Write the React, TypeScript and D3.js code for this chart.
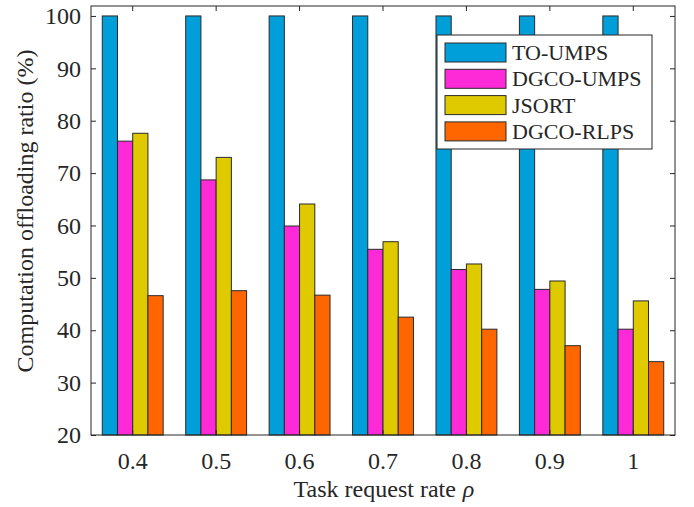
import React, { useEffect, useRef } from 'react';
import * as d3 from 'd3';

const rates = ['0.4', '0.5', '0.6', '0.7', '0.8', '0.9', '1'];
const seriesNames = ['TO-UMPS', 'DGCO-UMPS', 'JSORT', 'DGCO-RLPS'];
const toUmps = [100, 100, 100, 100, 100, 100, 100];
const dgcoUmps = [76.1, 68.7, 59.9, 55.45, 51.6, 47.8, 40.2];
const jsort = [77.6, 73.0, 64.1, 56.9, 52.65, 49.4, 45.6];
const dgcoRlps = [46.6, 47.55, 46.7, 42.5, 40.2, 37.05, 34.0];
const yTicks = [20, 30, 40, 50, 60, 70, 80, 90, 100];
const colors = ['#009fda', '#ff2ad7', '#dfca00', '#ff6600'];

const App: React.FC = () => {
  const svgRef = useRef<SVGSVGElement | null>(null);

  useEffect(() => {
    const svg = d3.select(svgRef.current);
    const width = 694;
    const height = 507;
    const margin = { top: 6, right: 19, bottom: 72, left: 91 };
    const font = 'Liberation Serif, Times New Roman, serif';
    const ink = '#262626';
    const fs = 24;

    svg.selectAll('*').remove();

    const allSeries = [toUmps, dgcoUmps, jsort, dgcoRlps];
    const rows = rates.map((r, i) => ({
      rate: r,
      values: seriesNames.map((s, j) => ({ name: s, value: allSeries[j][i], color: colors[j] })),
    }));

    const x0 = d3
      .scaleBand()
      .domain(rates)
      .range([margin.left, width - margin.right])
      .paddingInner(0.27)
      .paddingOuter(0.135);

    const x1 = d3.scaleBand().domain(seriesNames).range([0, x0.bandwidth()]);

    const y = d3
      .scaleLinear()
      .domain([20, 101.9])
      .range([height - margin.bottom, margin.top]);

    // bars
    const groups = svg
      .append('g')
      .selectAll('g')
      .data(rows)
      .join('g')
      .attr('transform', (d) => `translate(${x0(d.rate)},0)`);

    groups
      .selectAll('rect')
      .data((d) => d.values)
      .join('rect')
      .attr('x', (d) => x1(d.name)!)
      .attr('y', (d) => y(d.value))
      .attr('width', x1.bandwidth())
      .attr('height', (d) => y(20) - y(d.value))
      .attr('fill', (d) => d.color)
      .attr('stroke', '#2a2a2a')
      .attr('stroke-width', 1);

    // axes with inward ticks (matlab style)
    const styleAxis = (g: any) => {
      g.select('.domain').remove();
      g.attr('font-family', font).attr('font-size', fs);
      g.selectAll('line').attr('stroke', ink);
      g.selectAll('text').attr('fill', ink);
    };

    svg
      .append('g')
      .attr('transform', `translate(0,${height - margin.bottom})`)
      .call(d3.axisBottom(x0).tickSizeInner(-5).tickSizeOuter(0).tickPadding(17))
      .call(styleAxis);

    svg
      .append('g')
      .attr('transform', `translate(0,${margin.top})`)
      .call(d3.axisTop(x0).tickSizeInner(-5).tickSizeOuter(0).tickFormat(() => ''))
      .call(styleAxis);

    svg
      .append('g')
      .attr('transform', `translate(${margin.left},0)`)
      .call(d3.axisLeft(y).tickValues(yTicks).tickSizeInner(-5).tickSizeOuter(0).tickPadding(10))
      .call(styleAxis);

    svg
      .append('g')
      .attr('transform', `translate(${width - margin.right},0)`)
      .call(d3.axisRight(y).tickValues(yTicks).tickSizeInner(-5).tickSizeOuter(0).tickFormat(() => ''))
      .call(styleAxis);

    // frame
    svg
      .append('rect')
      .attr('x', margin.left)
      .attr('y', margin.top)
      .attr('width', width - margin.left - margin.right)
      .attr('height', height - margin.top - margin.bottom)
      .attr('fill', 'none')
      .attr('stroke', ink)
      .attr('stroke-width', 1);

    // x label: plain part + italic rho as two texts
    const cx = 384;
    const xLab = svg
      .append('text')
      .attr('y', 497)
      .attr('fill', ink)
      .attr('font-family', font)
      .attr('font-size', fs)
      .text('Task request rate');
    const rho = svg
      .append('text')
      .attr('y', 497)
      .attr('fill', ink)
      .attr('font-family', font)
      .attr('font-size', fs)
      .attr('font-style', 'italic')
      .text('ρ');
    const w1 = (xLab.node() as SVGTextElement).getComputedTextLength();
    const w2 = (rho.node() as SVGTextElement).getComputedTextLength();
    const gap = 7;
    const start = cx - (w1 + gap + w2) / 2;
    xLab.attr('x', start);
    rho.attr('x', start + w1 + gap);

    svg
      .append('text')
      .attr('transform', `translate(33,211) rotate(-90)`)
      .attr('text-anchor', 'middle')
      .attr('fill', ink)
      .attr('font-family', font)
      .attr('font-size', fs)
      .text('Computation offloading ratio (%)');

    // legend
    const legend = svg.append('g').attr('transform', 'translate(437,35)');
    legend
      .append('rect')
      .attr('width', 215)
      .attr('height', 114)
      .attr('fill', 'white')
      .attr('stroke', ink)
      .attr('stroke-width', 1);

    const items = legend
      .selectAll('g')
      .data(seriesNames)
      .join('g')
      .attr('transform', (_, i) => `translate(8,${8 + i * 26.3})`);

    items
      .append('rect')
      .attr('width', 61)
      .attr('height', 19)
      .attr('fill', (_, i) => colors[i])
      .attr('stroke', '#2a2a2a')
      .attr('stroke-width', 1);

    items
      .append('text')
      .attr('x', 67)
      .attr('y', 17)
      .attr('fill', ink)
      .attr('font-family', font)
      .attr('font-size', 22)
      .text((d) => d);
  }, []);

  return (
    <svg
      ref={svgRef}
      width={694}
      height={507}
      style={{ position: 'absolute', left: 0, top: 0, background: 'white' }}
    ></svg>
  );
};

export default App;
